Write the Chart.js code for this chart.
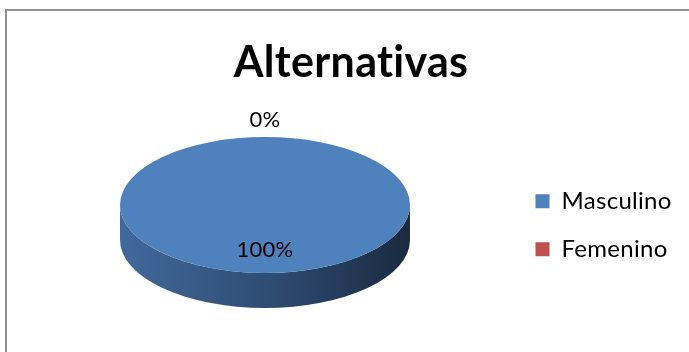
<!DOCTYPE html>
<html>
<head>
<meta charset="utf-8">
<script src="https://cdn.jsdelivr.net/npm/chart.js@4.4.1/dist/chart.umd.min.js"></script>
<style>
  body { margin: 0; background: #fff; }
  #wrap { position: relative; width: 689px; height: 352px; overflow: hidden; }
  #frame { position: absolute; left: 5px; top: 9px; width: 800px; height: 400px;
           border-left: 2px solid #8f8f8f; border-top: 2px solid #8f8f8f; }
  canvas { position: absolute; left: 0; top: 0; }
</style>
</head>
<body>
<div id="wrap">
  <div id="frame"></div>
  <canvas id="pieChart" width="689" height="352"></canvas>
</div>
<script>
const categories = ['Masculino', 'Femenino'];
const values = [100, 0];
const colors = ['#4f81bd', '#c0504d'];
const rimColors = [['#42699c', '#2f4d74', '#1b2a40'], ['#9c403e', '#7a3230', '#4f201f']];

// a little tracking keeps Lato from joining "ti" into a ligature
const textTweak = {
  id: 'textTweak',
  beforeDraw(chart) {
    chart.ctx.letterSpacing = '0.3px';
  }
};

// tilted pie: rim is drawn first, then the library's arcs are squashed into an ellipse
const pie3d = {
  id: 'pie3d',
  beforeDatasetsDraw(chart, args, opts) {
    const ctx = chart.ctx;
    const meta = chart.getDatasetMeta(0);
    const { cx, cy, rx, ry, depth } = opts;

    meta.data.forEach((el, i) => {
      if (el.endAngle - el.startAngle <= 0) return;
      // only the front half (0..PI) of each slice shows a rim
      [0, 2 * Math.PI].forEach(shift => {
        const s = Math.max(el.startAngle, shift);
        const e = Math.min(el.endAngle, shift + Math.PI);
        if (e <= s) return;
        const grad = ctx.createLinearGradient(cx - rx, 0, cx + rx, 0);
        grad.addColorStop(0, rimColors[i][0]);
        grad.addColorStop(0.5, rimColors[i][1]);
        grad.addColorStop(1, rimColors[i][2]);
        ctx.save();
        ctx.beginPath();
        ctx.ellipse(cx, cy, rx, ry, 0, s, e, false);
        ctx.ellipse(cx, cy + depth, rx, ry, 0, e, s, true);
        ctx.closePath();
        ctx.fillStyle = grad;
        ctx.fill();
        ctx.restore();
      });
    });

    const arc = meta.data[0];
    ctx.save();
    ctx.translate(cx, cy);
    ctx.scale(rx / arc.outerRadius, ry / arc.outerRadius);
    ctx.translate(-arc.x, -arc.y);
  },
  afterDatasetsDraw(chart, args, opts) {
    const ctx = chart.ctx;
    ctx.restore();

    const { cx, cy, rx, ry } = opts;
    const total = values.reduce((a, b) => a + b, 0);
    ctx.save();
    ctx.font = '22px Lato';
    ctx.fillStyle = '#000';
    ctx.textAlign = 'center';
    ctx.textBaseline = 'middle';
    chart.getDatasetMeta(0).data.forEach((el, i) => {
      const mid = (el.startAngle + el.endAngle) / 2;
      const pct = Math.round(values[i] / total * 100) + '%';
      let x, y;
      if (values[i] > 0) {
        x = cx + Math.cos(mid) * rx * 0.66;
        y = cy + Math.sin(mid) * ry * 0.66;
      } else {
        x = cx + Math.cos(mid) * (rx + 19);
        y = cy + Math.sin(mid) * (ry + 17);
      }
      ctx.fillText(pct, x, y);
    });
    ctx.restore();
  }
};

new Chart(document.getElementById('pieChart'), {
  type: 'pie',
  data: {
    labels: categories,
    datasets: [{
      data: values,
      backgroundColor: colors,
      borderWidth: 0
    }]
  },
  options: {
    responsive: false,
    animation: false,
    layout: { padding: { left: 23, right: 10 } },
    plugins: {
      title: {
        display: true,
        text: 'Alternativas',
        color: '#000',
        font: { family: 'Lato', size: 43, weight: 'bold' },
        padding: { top: 37, bottom: 10 }
      },
      legend: {
        position: 'right',
        fullSize: false,
        labels: {
          color: '#000',
          font: { family: 'Lato', size: 24 },
          boxWidth: 14,
          boxHeight: 14,
          padding: 24
        }
      },
      tooltip: { enabled: false },
      pie3d: { cx: 265, cy: 205, rx: 145, ry: 68, depth: 35 }
    }
  },
  plugins: [textTweak, pie3d]
});
</script>
</body>
</html>
